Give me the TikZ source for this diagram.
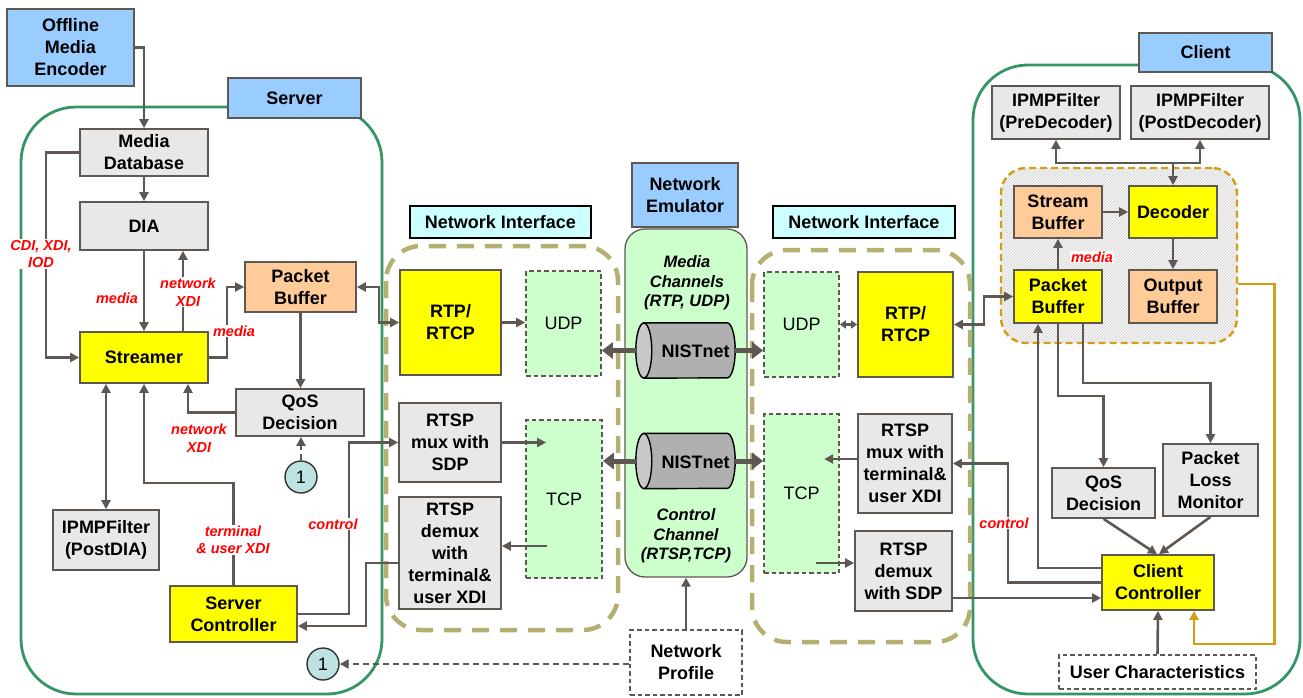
\documentclass[tikz,border=0pt]{standalone}
\usepackage{fontspec}
\setmainfont{Liberation Sans}
\usetikzlibrary{arrows.meta,calc,patterns}

\definecolor{edge}{RGB}{95,88,82}
\definecolor{lblue}{HTML}{99CCFF}
\definecolor{lgray}{HTML}{E8E8E8}
\definecolor{orng}{HTML}{FFCC99}
\definecolor{yel}{HTML}{FFFF00}
\definecolor{lgreen}{HTML}{CCFFCC}
\definecolor{lcyan}{HTML}{CCFFFF}
\definecolor{sgreen}{RGB}{51,150,100}
\definecolor{olive}{RGB}{181,176,114}
\definecolor{gold}{RGB}{210,158,20}
\definecolor{cylbody}{RGB}{176,176,176}
\definecolor{cylcap}{RGB}{200,200,200}
\definecolor{circfill}{RGB}{190,225,225}

% box placed by its corners: style, name, x1, y1, x2, y2, text
\newcommand\bx[7]{\node[#1, minimum width=#5-#3, minimum height=#6-#4] (#2) at ({(#3+#5)/2},{(#4+#6)/2}) {#7};}

% horizontal NISTnet cylinder drawn inside an empty node
\newcommand\nistcyl[1]{%
  \filldraw[draw=black, line width=1.4pt, fill=cylbody]
    ($(#1.north west)+(8,0)$) -- ($(#1.north east)+(-8,0)$)
    arc[start angle=90, end angle=-90, x radius=8pt, y radius=27.5pt]
    -- ($(#1.south west)+(8,0)$) -- cycle;
  \filldraw[draw=black, line width=1.4pt, fill=cylcap]
    ($(#1.west)+(8,0)$) ellipse[x radius=8pt, y radius=27.5pt];}

\tikzset{
  blk/.style={draw=edge, line width=1.7pt, inner sep=0pt, align=center,
    font=\bfseries\fontsize{18}{22}\selectfont},
  dbox/.style={blk, dash pattern=on 4.5pt off 3pt, font=\fontsize{18}{22}\selectfont},
  dashbold/.style={blk, dash pattern=on 4.5pt off 3pt},
  tag/.style={blk, draw=black, fill=lcyan, line width=1.3pt},
  lbl/.style={text=red, font=\bfseries\itshape\fontsize{14.5}{17.5}\selectfont,
    fill=white, inner sep=1pt, align=center},
  chan/.style={font=\bfseries\itshape\fontsize{16.5}{19.5}\selectfont, align=center},
  arr/.style={draw=edge, line width=2.6pt, -{Triangle[length=9pt,width=9pt]}},
  darr/.style={draw=edge, line width=2.6pt,
    {Triangle[length=9pt,width=9pt]}-{Triangle[length=9pt,width=9pt]}},
  dsh/.style={dash pattern=on 6pt off 4pt},
  thk/.style={draw=edge, line width=5pt, -{Triangle[length=11pt,width=16pt]}},
  garr/.style={draw=gold, line width=2.6pt, -{Triangle[length=9pt,width=9pt]}},
  circ/.style={circle, draw=black!80, line width=1.4pt, fill=circfill,
    minimum size=32pt, inner sep=0pt, font=\fontsize{18}{20}\selectfont},
  niframe/.style={draw=olive, line width=4.5pt, dash pattern=on 17pt off 11pt,
    rounded corners=35pt},
  hostframe/.style={draw=sgreen, line width=2.8pt, rounded corners=55pt},
}

\begin{document}
\begin{tikzpicture}[x=1pt,y=-1pt]
\useasboundingbox (0,0) rectangle (1303,697);

% ---------- enclosures ----------
\draw[hostframe] (21,107) rectangle (382,694);
\draw[hostframe] (973,65) rectangle (1300,694);
\draw[niframe] (386,246) rectangle (618,630);
\draw[niframe] (752,250) rectangle (970,642);
\node[draw=edge, fill=lgreen, line width=1.3pt, rounded corners=20pt,
  minimum width=122, minimum height=348, inner sep=0pt] (emu) at (686,403) {};
\node[preaction={fill=gray!8}, pattern=north east lines, pattern color=gray!35,
  draw=gold, line width=2.4pt, dash pattern=on 7pt off 4pt, rounded corners=25pt,
  minimum width=236, minimum height=175, inner sep=0pt] (gfr) at (1119,255.5) {};

% ---------- server ----------
\bx{blk,fill=lblue}{enc}{7}{9}{134}{86}{Offline\\Media\\Encoder}
\bx{blk,fill=lblue}{srvlbl}{228}{78}{361}{118}{Server}
\bx{blk,fill=lgray}{mdb}{80}{129}{208}{176}{Media\\Database}
\bx{blk,fill=lgray}{dia}{80}{202}{208}{250}{DIA}
\bx{blk,fill=orng}{spb}{245}{262}{356}{312}{Packet\\Buffer}
\bx{blk,fill=yel}{str}{80}{332}{208}{383}{Streamer}
\bx{blk,fill=lgray}{sqos}{236}{389}{364}{436}{QoS\\Decision}
\bx{blk,fill=lgray}{ipdia}{53}{510}{159}{570}{IPMPFilter\\(PostDIA)}
\bx{blk,fill=yel}{sctl}{170}{586}{297}{642}{Server\\Controller}
\node[circ] (c1a) at (301,477) {1};
\node[circ] (c1b) at (323,664) {1};

% ---------- server-side network interface ----------
\bx{tag}{nillbl}{410}{206}{591}{238}{Network Interface}
\bx{blk,fill=yel}{rtpL}{400}{270}{501}{375}{RTP/\\RTCP}
\bx{dbox,fill=lgreen}{udpL}{526}{271}{601}{376}{UDP}
\bx{blk,fill=lgray}{muxL}{399}{403}{501}{482}{RTSP\\mux with\\SDP}
\bx{dbox,fill=lgreen}{tcpL}{526}{420}{602}{578}{TCP}
\bx{blk,fill=lgray}{dmxL}{399}{497}{501}{609}{RTSP\\demux\\with\\terminal\&\\user XDI}

% ---------- network emulator ----------
\bx{blk,fill=lblue}{emlbl}{632}{163}{738}{227}{Network\\Emulator}
\node[chan] (medch) at (687,283) {Media\\Channels\\(RTP, UDP)};
\node[chan] (ctlch) at (686,536) {Control\\Channel\\(RTSP,TCP)};
\node[inner sep=0pt, minimum width=99, minimum height=55] (cyl1) at (685.5,350.5) {};
\node[inner sep=0pt, minimum width=99, minimum height=55] (cyl2) at (685.5,461) {};
\nistcyl{cyl1}
\nistcyl{cyl2}
\node[font=\bfseries\fontsize{18}{20}\selectfont] (cyl1t) at ($(cyl1.center)+(10,1)$) {NISTnet};
\node[font=\bfseries\fontsize{18}{20}\selectfont] (cyl2t) at ($(cyl2.center)+(10,1)$) {NISTnet};
\bx{dashbold,fill=white}{np}{630}{630}{742}{695}{Network\\Profile}

% ---------- client-side network interface ----------
\bx{tag}{nirlbl}{773}{206}{955}{238}{Network Interface}
\bx{dbox,fill=lgreen}{udpR}{764}{272}{839}{377}{UDP}
\bx{blk,fill=yel}{rtpR}{858}{272}{953}{377}{RTP/\\RTCP}
\bx{dbox,fill=lgreen}{tcpR}{764}{414}{839}{573}{TCP}
\bx{blk,fill=lgray}{muxR}{858}{414}{952}{513}{RTSP\\mux with\\terminal\&\\user XDI}
\bx{blk,fill=lgray}{dmxR}{855}{531}{952}{611}{RTSP\\demux\\with SDP}

% ---------- client ----------
\bx{blk,fill=lblue}{clbl}{1139}{33}{1272}{72}{Client}
\bx{blk,fill=lgray}{ippre}{992}{86}{1120}{139}{IPMPFilter\\(PreDecoder)}
\bx{blk,fill=lgray}{ippost}{1131}{86}{1269}{139}{IPMPFilter\\(PostDecoder)}
\bx{blk,fill=orng}{sbuf}{1014}{186}{1102}{238}{Stream\\Buffer}
\bx{blk,fill=yel}{dec}{1129}{186}{1217}{238}{Decoder}
\bx{blk,fill=yel}{cpb}{1014}{270}{1102}{323}{Packet\\Buffer}
\bx{blk,fill=orng}{obuf}{1129}{270}{1217}{323}{Output\\Buffer}
\bx{blk,fill=lgray}{cqos}{1052}{468}{1155}{518}{QoS\\Decision}
\bx{blk,fill=lgray}{plm}{1163}{444}{1258}{516}{Packet\\Loss\\Monitor}
\bx{blk,fill=yel}{cctl}{1102}{555}{1214}{610}{Client\\Controller}
\bx{dashbold,fill=white}{uc}{1059}{655}{1256}{689}{User Characteristics}

% ---------- server connectors ----------
\draw[arr] (enc.east) -| (mdb.north);
\draw[arr] (mdb.south) -- (dia.north);
\draw[arr] (mdb.west) -- ++(-33,0) |- (str.west);
\draw[arr] (dia.south) -- (str.north);
\draw[arr] ($(str.north)+(39,0)$) -- ($(dia.south)+(39,0)$);
\draw[arr] (str.east) -- ++(18,0) |- (spb.west);
\draw[arr] (spb.south) -- (spb.south |- sqos.north);
\draw[arr] (sqos.west) -| ($(str.south)+(44,0)$);
\draw[darr] ($(str.south)+(-38,0)$) -- (ipdia.north);
\draw[arr] (sctl.north) -- ++(0,-102) -| (str.south);
\draw[arr, dsh] (c1a.north) -- (c1a.north |- sqos.south);
\draw[arr] (sctl.east) -- ++(51,0) |- (muxL.west);
\draw[arr] ($(dmxL.west)+(0,10)$) -- ++(-32,0) |- ($(sctl.east)+(0,12)$);
\draw[darr] (spb.east) -- ++(22,0) |- (rtpL.west);
\draw[arr, dsh] (np.west |- c1b.east) -- (c1b.east);

% ---------- network interface connectors ----------
\draw[arr] (rtpL.east) -- (rtpL.east -| udpL.west);
\draw[arr] (muxL.east) -- ($(tcpL.west |- muxL.east)+(21,0)$);
\coordinate (tl) at ($(tcpL.west)+(22,47)$);
\draw[arr] (tl) -- (tl -| dmxL.east);
\draw[thk] (cyl1.west) -- (cyl1.west -| udpL.east);
\draw[thk] (cyl1.east) -- (cyl1.east -| udpR.west);
\draw[thk] (cyl2.west) -- (cyl2.west -| tcpL.east);
\draw[thk] (cyl2.east) -- (cyl2.east -| tcpR.west);
\draw[arr] (np.north) -- (np.north |- emu.south);
\draw[draw=edge, line width=2.2pt, {Triangle[length=6pt,width=8pt]}-{Triangle[length=6pt,width=8pt]}]
  (udpR.east) -- (udpR.east -| rtpR.west);
\draw[arr] ($(muxR.west)+(0,-4.5)$) -- ($(tcpR.west)+(61,-34.5)$);
\draw[arr] ($(tcpR.west)+(53,69.5)$) -- ($(dmxR.west)+(0,-8)$);

% ---------- client connectors ----------
\draw[darr] (rtpR.east) -- ++(30,0) |- (cpb.west);
\draw[arr] (cctl.west) -- ++(-93,0) |- (muxR.east);
\draw[arr] ($(dmxR.east)+(0,27)$) -- ($(cctl.west)+(0,15.5)$);
\draw[arr] (cpb.north) -- (sbuf.south);
\draw[arr] (sbuf.east) -- (dec.west);
\draw[arr] (dec.south) -- (obuf.north);
\coordinate (jn) at (dec.north |- 0,163);
\draw[arr] (jn) -- (dec.north);
\draw[arr] (jn) -| (ippre.south);
\draw[arr] (jn) -| (ippost.south);
\draw[garr] ($(gfr.east)+(0,28.5)$) -- ++(36,0) -- ++(0,360) -| ($(cctl.south)+(36,0)$);
\draw[arr] ($(cctl.west)+(0,-14.5)$) -| ($(cpb.south)+(-20,0)$);
\draw[arr] (cpb.south) -- ++(0,72) -| (cqos.north);
\draw[arr] ($(cpb.south)+(25,0)$) -- ++(0,59) -| (plm.north);
\draw[arr] (cqos.south) -- ($(cctl.north)+(-1,0)$);
\draw[arr] (plm.south) -- ($(cctl.north)+(1,0)$);
\draw[arr] (uc.north) -- (cctl.south);

% ---------- flow labels ----------
\node[lbl] (lcdi) at (41,254) {CDI, XDI,\\IOD};
\node[lbl] (lmed1) at (117,298) {media};
\node[lbl] (lnet1) at (188,292) {network\\XDI};
\node[lbl] (lmed2) at (234,331) {media};
\node[lbl] (lnet2) at (199,438) {network\\XDI};
\node[lbl] (lterm) at (233,540) {terminal\\\& user XDI};
\node[lbl] (lctl1) at (333,524) {control};
\node[lbl] (lctl2) at (1004,523) {control};
\node[lbl] (lmed3) at (1092,257) {media};
\end{tikzpicture}
\end{document}
